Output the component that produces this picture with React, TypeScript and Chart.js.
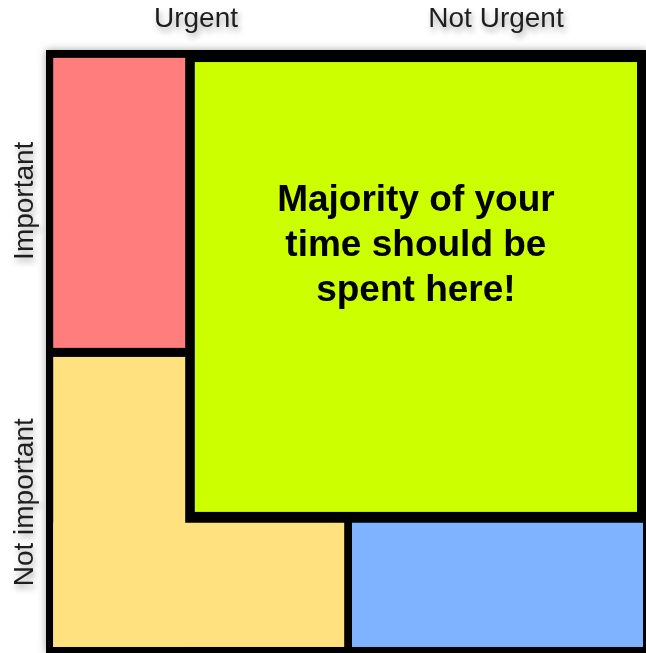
import React, { useEffect, useRef } from "react";
import { Chart, registerables } from "chart.js";

Chart.register(...registerables);

// Axis categories (tick values on a 0–100 grid)
const xCategories = ["Urgent", "Not Urgent"];
const xTickValues = [25, 75];
const yCategories = ["Important", "Not important"];
const yTickValues = [25, 75];

// Cells: [x0, x1, y0, y1] in grid units (0..100, y downward)
const cellNames = ["frame", "urgentImportant", "notUrgentImportant", "urgentNotImportantA", "urgentNotImportantB", "notUrgentNotImportant"];
const cellX0 = [0, 1.2, 24.8, 1.2, 1.2, 51.0];
const cellX1 = [100, 23.2, 98.5, 23.2, 49.7, 99.5];
const cellY0 = [0, 1.3, 2.0, 50.9, 78.4, 78.4];
const cellY1 = [100, 49.4, 76.6, 99.0, 99.0, 99.0];
const cellColors = ["#000000", "#FF7D7D", "#CCFF00", "#FFE27F", "#FFE27F", "#7FB2FF"];

const messageLines = ["Majority of your", "time should be", "spent here!"];

const quadrantPlugin = {
  id: "quadrants",
  afterDraw(chart: any) {
    const { ctx, scales, chartArea } = chart;
    const xs = scales.x;
    const ys = scales.y;
    ctx.save();
    cellNames.forEach((_, i) => {
      const x0 = xs.getPixelForValue(cellX0[i]);
      const x1 = xs.getPixelForValue(cellX1[i]);
      const y0 = ys.getPixelForValue(cellY0[i]);
      const y1 = ys.getPixelForValue(cellY1[i]);
      ctx.save();
      if (i === 0) {
        ctx.shadowColor = "rgba(0,0,0,0.35)";
        ctx.shadowBlur = 8;
      }
      ctx.fillStyle = cellColors[i];
      ctx.fillRect(x0, y0, x1 - x0, y1 - y0);
      ctx.restore();
    });

    // message in the big cell
    const gx = (xs.getPixelForValue(cellX0[2]) + xs.getPixelForValue(cellX1[2])) / 2;
    const gTop = ys.getPixelForValue(cellY0[2]);
    ctx.fillStyle = "#000000";
    ctx.font = 'bold 37px "Liberation Sans", Arial, sans-serif';
    ctx.textAlign = "center";
    ctx.textBaseline = "alphabetic";
    messageLines.forEach((line, i) => {
      ctx.fillText(line, gx, gTop + 149 + i * 45);
    });

    // axis labels
    ctx.font = '28px "Liberation Sans", Arial, sans-serif';
    ctx.fillStyle = "#1e1e1e";
    ctx.shadowColor = "rgba(0,0,0,0.35)";
    ctx.shadowBlur = 6;
    ctx.shadowOffsetX = 2;
    ctx.shadowOffsetY = 4;
    xCategories.forEach((label, i) => {
      ctx.fillText(label, xs.getPixelForValue(xTickValues[i]), chartArea.top - 23);
    });
    yCategories.forEach((label, i) => {
      ctx.save();
      ctx.translate(chartArea.left - 13, ys.getPixelForValue(yTickValues[i]));
      ctx.rotate(-Math.PI / 2);
      ctx.fillText(label, 0, 0);
      ctx.restore();
    });
    ctx.restore();
  },
};

export default function App() {
  const ref = useRef<HTMLCanvasElement | null>(null);
  useEffect(() => {
    if (!ref.current) return;
    const chart = new Chart(ref.current, {
      type: "scatter",
      data: { datasets: [{ data: [] }] },
      options: {
        responsive: false,
        animation: false,
        devicePixelRatio: 1,
        layout: { padding: { left: 46, top: 50, right: 0, bottom: 0 } },
        plugins: { legend: { display: false }, tooltip: { enabled: false } },
        scales: {
          x: { type: "linear", min: 0, max: 100, display: false },
          y: { type: "linear", min: 0, max: 100, reverse: true, display: false },
        },
      },
      plugins: [quadrantPlugin],
    });
    return () => chart.destroy();
  }, []);
  return (
    <div style={{ position: "fixed", left: 0, top: 0, width: 646, height: 653, background: "#ffffff" }}>
      <canvas ref={ref} width={646} height={653} style={{ display: "block" }} />
    </div>
  );
}
